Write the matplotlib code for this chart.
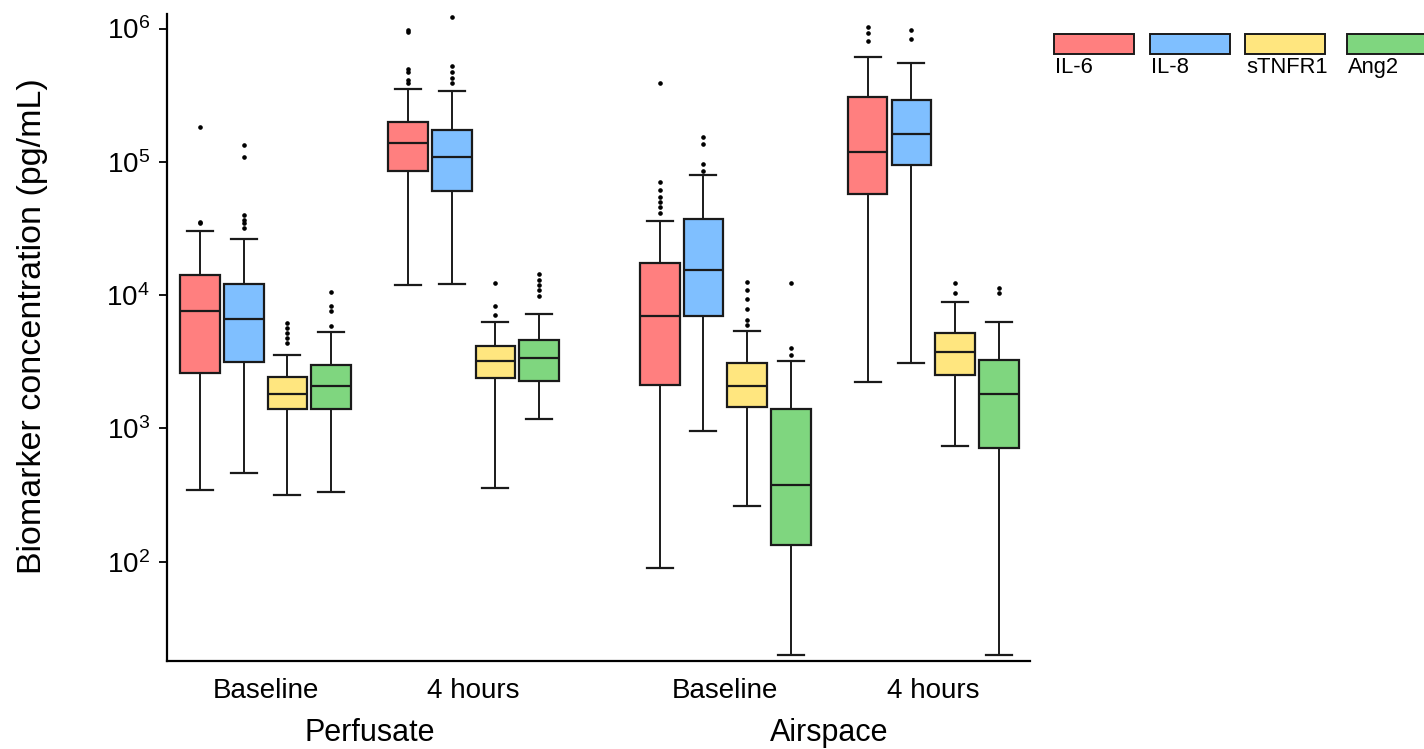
import matplotlib
matplotlib.use("Agg")
import matplotlib.pyplot as plt
from matplotlib.patches import Rectangle

plt.rcParams['font.family'] = ['Liberation Sans', 'DejaVu Sans']

# groups on the x axis
time_labels = ["Baseline", "4 hours", "Baseline", "4 hours"]
site_labels = ["Perfusate", "Airspace"]
markers = ["IL-6", "IL-8", "sTNFR1", "Ang2"]
colors = ["#FF7F7F", "#7FBFFF", "#FFE67F", "#7FD67F"]

# box stats per group: [whislo, q1, median, q3, whishi] (pg/mL)
il6_box = [[348, 2620, 7620, 14100, 30300],
           [11900, 85800, 138000, 200000, 349000],
           [90, 2120, 7030, 17400, 36000],
           [2240, 57400, 118000, 308000, 607000]]
il8_box = [[464, 3130, 6600, 12200, 26300],
           [12200, 60700, 109000, 173000, 341000],
           [963, 7030, 15500, 37100, 79200],
           [3100, 94100, 163000, 292000, 556000]]
stnfr1_box = [[318, 1400, 1820, 2440, 3570],
              [356, 2400, 3180, 4120, 6340],
              [260, 1450, 2070, 3080, 5370],
              [743, 2530, 3720, 5190, 8860]]
ang2_box = [[336, 1400, 2070, 3000, 5250],
            [1180, 2250, 3370, 4630, 7240],
            [19.9, 133, 377, 1400, 3180],
            [19.9, 718, 1820, 3240, 6340]]

# outliers per group
il6_fliers = [[35600, 34500, 184000],
              [980000, 938000, 493000, 471000, 410000, 389000],
              [387000, 71000, 61500, 54800, 50300, 46100, 41100],
              [1020000, 933000, 800000]]
il8_fliers = [[133000, 109000, 39900, 36600, 34800, 31900],
              [1220000, 525000, 473000, 425000, 389000],
              [154000, 136000, 96400, 85800],
              [971000, 832000]]
stnfr1_fliers = [[6210, 5690, 5220, 4790, 4390],
                 [12300, 8230, 7120],
                 [12600, 11000, 9340, 7850, 6530, 6000],
                 [12400, 10400]]
ang2_fliers = [[10500, 8220, 7540, 5820],
               [14400, 13000, 11900, 11000, 9770],
               [12300, 4000, 3560],
               [11300, 10400]]

all_box = [il6_box, il8_box, stnfr1_box, ang2_box]
all_fliers = [il6_fliers, il8_fliers, stnfr1_fliers, ang2_fliers]

group_x = [0, 1, 2.21, 3.21]
offsets = [-0.315, -0.105, 0.105, 0.315]

fig = plt.figure(figsize=(14.24, 7.49), dpi=100)
ax = fig.add_axes([0.117, 0.1175, 0.606, 0.8635])

for m in range(len(markers)):
    stats = []
    pos = []
    for g in range(len(group_x)):
        lo, q1, med, q3, hi = all_box[m][g]
        stats.append(dict(whislo=lo, q1=q1, med=med, q3=q3, whishi=hi,
                          fliers=all_fliers[m][g]))
        pos.append(group_x[g] + offsets[m])
    ax.bxp(stats, positions=pos, widths=0.19, capwidths=0.125,
           patch_artist=True, manage_ticks=False,
           boxprops=dict(facecolor=colors[m], edgecolor='#1a1a1a', linewidth=1.6),
           medianprops=dict(color='#1a1a1a', linewidth=1.6),
           whiskerprops=dict(color='#1a1a1a', linewidth=1.4),
           capprops=dict(color='#1a1a1a', linewidth=1.6),
           flierprops=dict(marker='o', markersize=2.3, markerfacecolor='black',
                           markeredgecolor='black'))

ax.set_yscale('log')
ax.set_ylim(18, 1.28e6)
ax.set_xlim(-0.476, 3.673)
ax.set_yticks([1e2, 1e3, 1e4, 1e5, 1e6])
ax.minorticks_off()
ax.tick_params(axis='y', labelsize=20, length=6, width=1.3, pad=6)
ax.set_xticks(group_x)
ax.set_xticklabels(time_labels)
ax.tick_params(axis='x', labelsize=20, length=0, pad=12)
for s in ['top', 'right']:
    ax.spines[s].set_visible(False)
for s in ['left', 'bottom']:
    ax.spines[s].set_linewidth(1.6)

ax.text((group_x[0] + group_x[1]) / 2, -0.111, site_labels[0],
        transform=ax.get_xaxis_transform(), ha='center', va='center', fontsize=22)
ax.text((group_x[2] + group_x[3]) / 2, -0.111, site_labels[1],
        transform=ax.get_xaxis_transform(), ha='center', va='center', fontsize=22)

fig.text(0.0225, 0.565, "Biomarker concentration (pg/mL)", rotation=90,
         ha='center', va='center', fontsize=24.5)

# legend: wide swatches with labels underneath
leg_x = [1054, 1150, 1245, 1347]
for i in range(len(markers)):
    x0 = leg_x[i] / 1424
    fig.add_artist(Rectangle((x0, 1 - 53.5 / 749), 80 / 1424, 20 / 749,
                             transform=fig.transFigure, facecolor=colors[i],
                             edgecolor='#1a1a1a', linewidth=1.4))
    fig.text(x0 + 1 / 1424, 1 - 57 / 749, markers[i], ha='left', va='top',
             fontsize=15.8)

fig.savefig("out.png", dpi=100)
